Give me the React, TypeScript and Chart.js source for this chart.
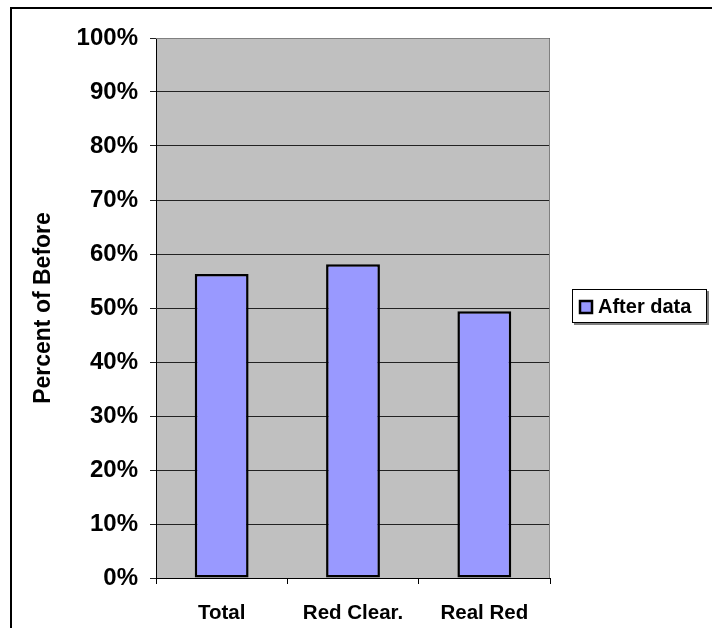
import React, { useEffect, useRef } from "react";
import { Chart, registerables } from "chart.js";

Chart.register(...registerables);

const categories = ["Total", "Red Clear.", "Real Red"];
const afterData = [56.3, 58.1, 49.4];
const seriesLabel = "After data";
const yTitle = "Percent of Before";

const FONT = "'Liberation Sans', Arial, sans-serif";
const BAR_FILL = "#9999FF";

const framePlugin = {
  id: "frame",
  beforeDraw(chart: any) {
    const { ctx, chartArea: a, width, height } = chart;
    ctx.save();
    ctx.fillStyle = "#ffffff";
    ctx.fillRect(0, 0, width, height);
    ctx.strokeStyle = "#000";
    ctx.lineWidth = 2;
    ctx.beginPath();
    ctx.moveTo(11, height + 2);
    ctx.lineTo(11, 8);
    ctx.lineTo(width + 2, 8);
    ctx.stroke();
    ctx.fillStyle = "#C0C0C0";
    ctx.fillRect(a.left, a.top, a.right - a.left, a.bottom - a.top);
    ctx.restore();
  },
  beforeDatasetsDraw(chart: any) {
    const { ctx, chartArea: a } = chart;
    ctx.save();
    ctx.strokeStyle = "#808080";
    ctx.lineWidth = 1;
    ctx.beginPath();
    ctx.moveTo(a.left, a.top + 0.5);
    ctx.lineTo(a.right - 0.5, a.top + 0.5);
    ctx.lineTo(a.right - 0.5, a.bottom);
    ctx.stroke();
    ctx.restore();
  },
  afterDraw(chart: any) {
    const { ctx } = chart;
    const ds = chart.data.datasets[0];
    const bx = 572, by = 289, bw = 135, bh = 34;
    ctx.save();
    ctx.fillStyle = "#808080";
    ctx.fillRect(bx + 2, by + 2, bw, bh);
    ctx.fillStyle = "#fff";
    ctx.fillRect(bx, by, bw, bh);
    ctx.strokeStyle = "#000";
    ctx.lineWidth = 1;
    ctx.strokeRect(bx + 0.5, by + 0.5, bw - 1, bh - 1);
    ctx.fillStyle = ds.backgroundColor;
    ctx.fillRect(580, 301, 12, 12);
    ctx.lineWidth = 2.5;
    ctx.strokeRect(580, 301, 12, 12);
    ctx.fillStyle = "#000";
    ctx.font = `bold 20px ${FONT}`;
    ctx.textBaseline = "middle";
    ctx.textAlign = "left";
    ctx.fillText(ds.label, 598, 307);
    ctx.restore();
  },
};

export default function App() {
  const ref = useRef<HTMLCanvasElement | null>(null);
  useEffect(() => {
    if (!ref.current) return;
    const chart = new Chart(ref.current, {
      type: "bar",
      data: {
        labels: categories,
        datasets: [
          {
            label: seriesLabel,
            data: afterData,
            backgroundColor: BAR_FILL,
            borderColor: "#000",
            borderWidth: 2.5,
            borderSkipped: false,
            categoryPercentage: 1,
            barPercentage: 0.41,
          },
        ],
      },
      options: {
        animation: false,
        responsive: false,
        maintainAspectRatio: false,
        layout: { padding: { top: 38, right: 162, left: 0, bottom: 0 } },
        plugins: {
          legend: { display: false },
          tooltip: { enabled: false },
        },
        scales: {
          x: {
            afterFit(scale: any) {
              scale.height = 50;
            },
            grid: {
              offset: true,
              drawOnChartArea: false,
              drawTicks: true,
              tickLength: 6,
              color: "#000",
            },
            border: { display: true, color: "#000", width: 1 },
            ticks: {
              color: "#000",
              padding: 17,
              font: { family: FONT, size: 20.5, weight: "bold" },
            },
          },
          y: {
            min: 0,
            max: 100,
            afterFit(scale: any) {
              scale.width = 156;
            },
            grid: {
              color: "#222",
              lineWidth: 1,
              drawTicks: true,
              tickLength: 6,
            },
            border: { display: true, color: "#000", width: 1 },
            ticks: {
              stepSize: 10,
              color: "#000",
              padding: 12,
              font: { family: FONT, size: 24, weight: "bold" },
              callback: (v: any) => `${v}%`,
            },
            title: {
              display: true,
              text: yTitle,
              color: "#000",
              padding: { top: 30, bottom: 0 },
              font: { family: FONT, size: 23, weight: "bold" },
            },
          },
        },
      },
      plugins: [framePlugin],
    });
    return () => chart.destroy();
  }, []);
  return (
    <div style={{ position: "fixed", left: 0, top: 0, width: 712, height: 628 }}>
      <canvas ref={ref} width={712} height={628} style={{ display: "block" }} />
    </div>
  );
}
